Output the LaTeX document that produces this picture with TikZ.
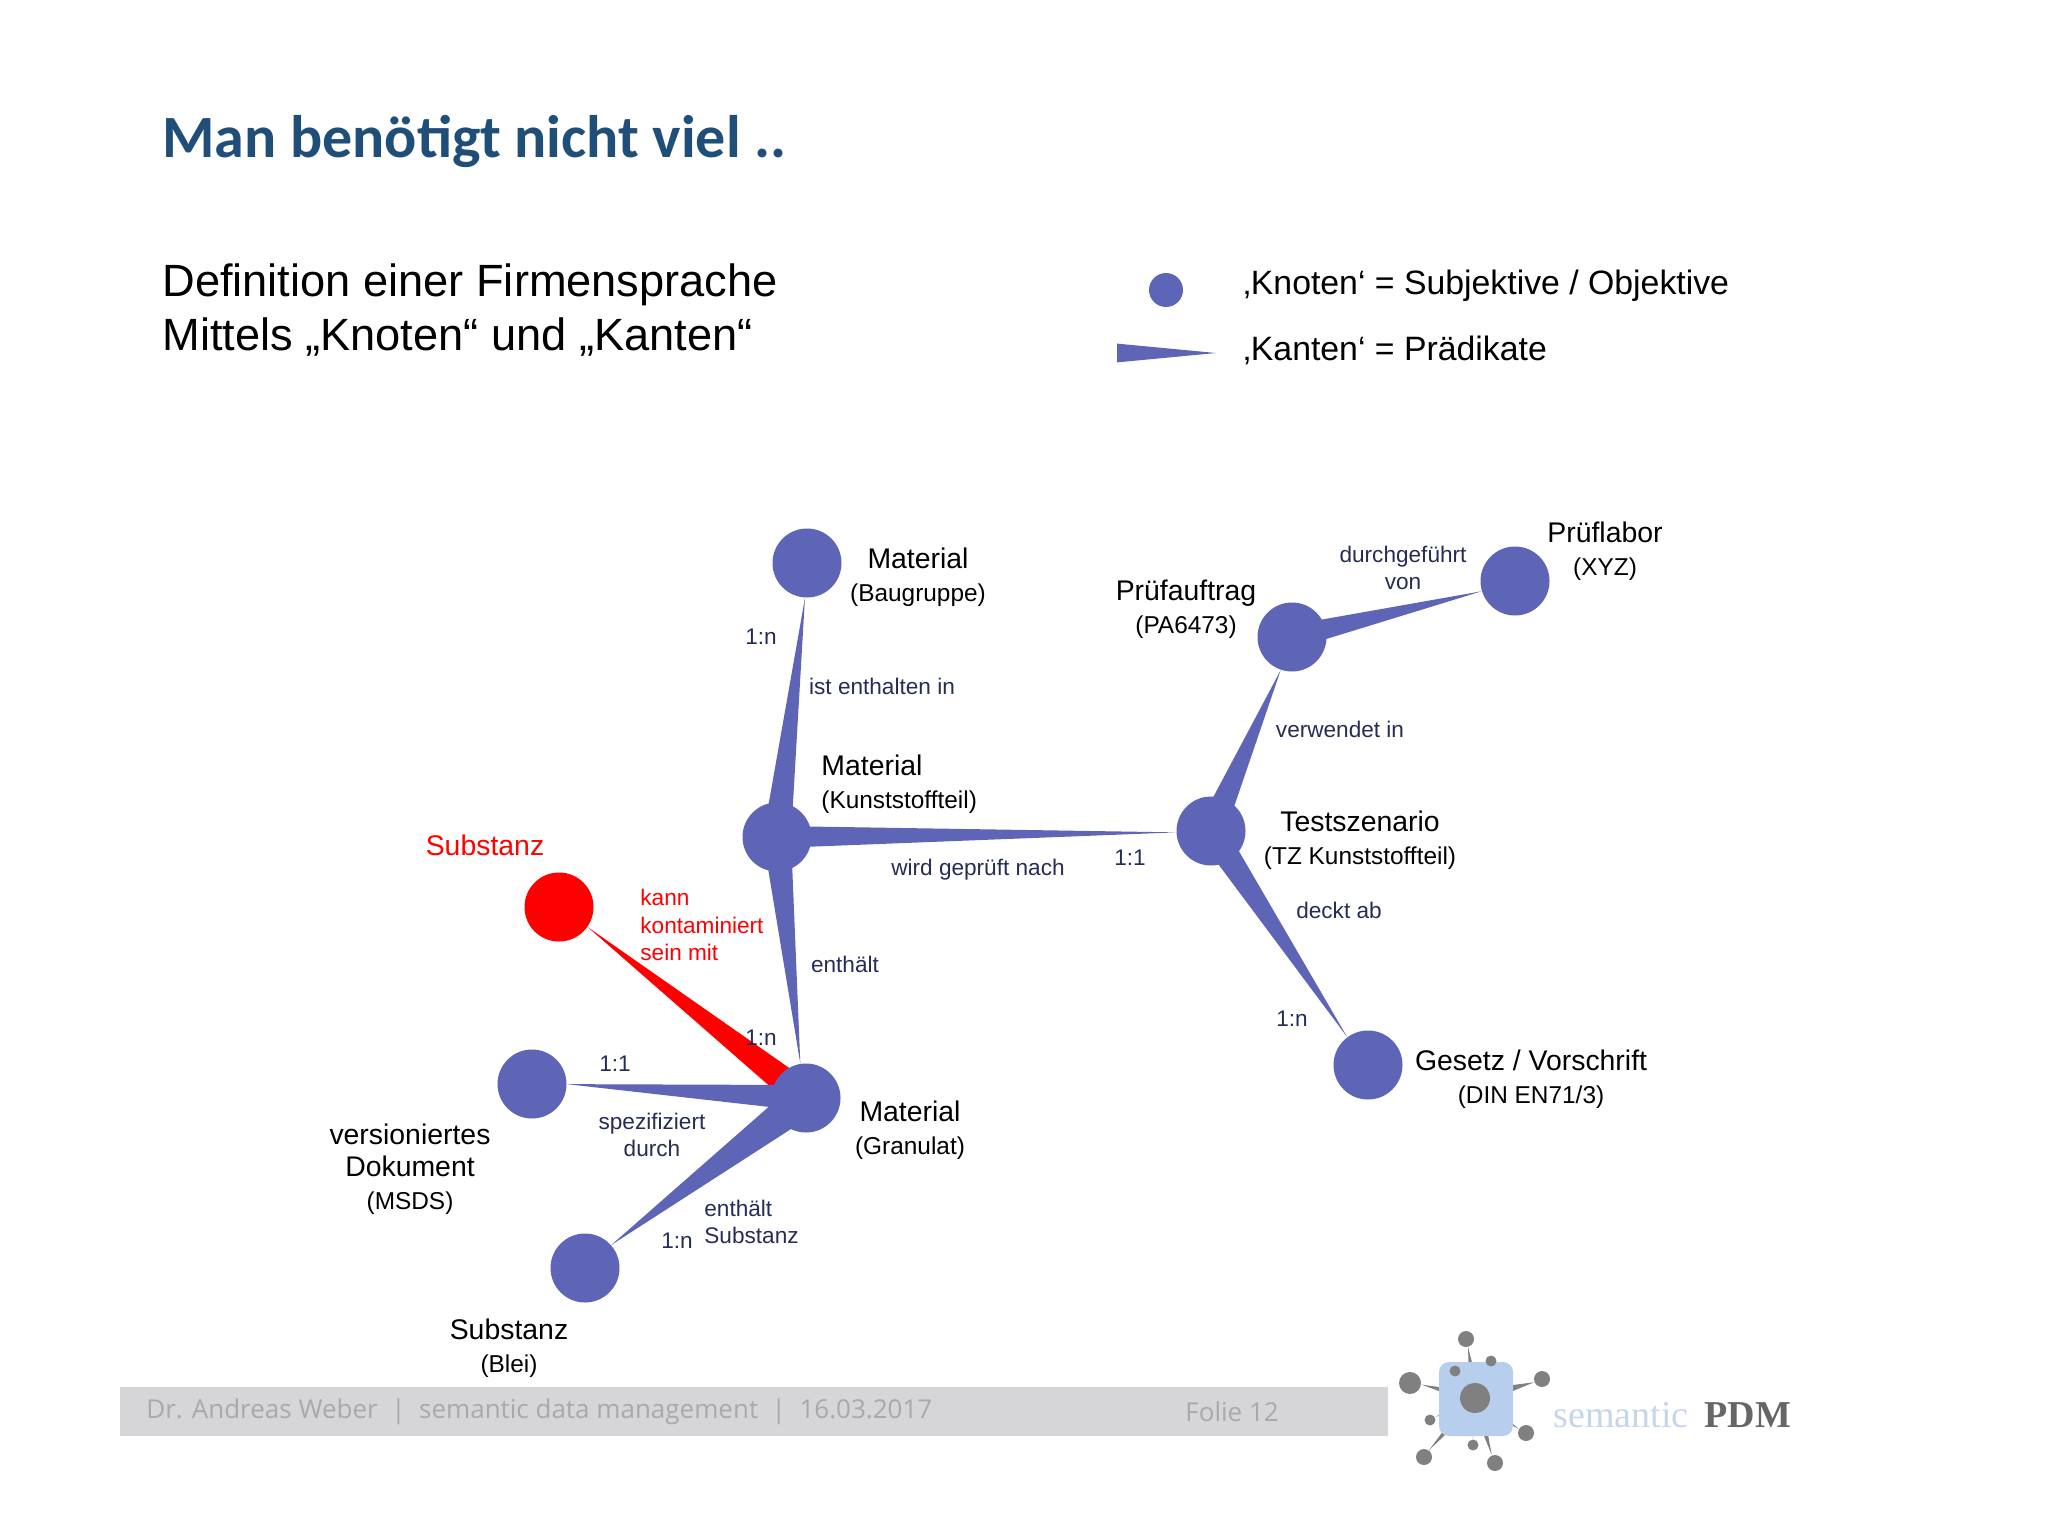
\documentclass[tikz,border=0pt]{standalone}
\usepackage{fontspec}
\setmainfont{Liberation Sans}
\newfontfamily\titelfont{Carlito}
\newfontfamily\fussfont{Open Sans}
\newfontfamily\logofont{Liberation Serif}
\usetikzlibrary{calc,backgrounds}
\definecolor{knotenblau}{HTML}{5E65B6}
\definecolor{titelblau}{HTML}{1F4E79}
\definecolor{labelblau}{HTML}{252C55}
\definecolor{fussgrau}{HTML}{D6D6D8}
\definecolor{fusstext}{HTML}{A9A9AB}
\definecolor{logograu}{HTML}{808080}
\definecolor{logoblau}{HTML}{B7CFEC}
\definecolor{logotext}{HTML}{C5D6EC}
\newcommand{\zweit}{\fontsize{12.2}{16.3}\selectfont}
% wedge: wide at #2, point at #3, #4 = half width
\newcommand{\kante}[4][knotenblau]{\fill[#1] ($(#2)!#4!90:(#3)$) -- ($(#2)!#4!-90:(#3)$) -- (#3) -- cycle;}
\tikzset{
  knoten/.style={circle,fill=knotenblau,minimum size=34.5pt,inner sep=0pt},
  titel/.style={inner sep=0pt,align=center,font=\fontsize{14.2}{16.3}\selectfont},
  klein/.style={inner sep=0pt,align=center,text=labelblau,font=\fontsize{11.3}{13.7}\selectfont},
  logopunkt/.style={circle,fill=logograu,inner sep=0pt}
}
\begin{document}
\begin{tikzpicture}[x=0.5pt,y=-0.5pt]
  \useasboundingbox (0,0) rectangle (2048,1536);
  \node[anchor=base west,inner sep=0pt,text=titelblau,font=\titelfont\bfseries\fontsize{30}{36}\selectfont] (kopf) at (162,157) {Man benötigt nicht viel ..};
  \node[anchor=west,inner sep=0pt,align=left,font=\fontsize{22.6}{27.4}\selectfont] (intro) at (162,310) {Definition einer Firmensprache\\Mittels „Knoten“ und „Kanten“};
  % legend
  \node[circle,fill=knotenblau,minimum size=17pt,inner sep=0pt] (legknoten) at (1166,290) {};
  \node[anchor=west,inner sep=0pt,font=\fontsize{16.9}{20}\selectfont] (legtext1) at (1243,286) {‚Knoten‘ = Subjektive / Objektive};
  \node[anchor=west,inner sep=0pt,font=\fontsize{16.9}{20}\selectfont] (legtext2) at (1243,350) {‚Kanten‘ = Prädikate};
  \coordinate (legA) at (1117,353);
  \coordinate (legB) at (1216,353);
  \kante{legA}{legB}{4.7pt}
  % nodes
  \node[knoten] (baugruppe) at (807,563) {};
  \node[knoten] (kunststoff) at (777,837) {};
  \node[knoten] (granulat) at (806,1098) {};
  \node[knoten,fill=red] (rot) at (559,907) {};
  \node[knoten] (msds) at (532,1084) {};
  \node[knoten] (blei) at (585,1268) {};
  \node[knoten] (test) at (1211,831) {};
  \node[knoten] (auftrag) at (1292,637) {};
  \node[knoten] (labor) at (1515,581) {};
  \node[knoten] (gesetz) at (1368,1065) {};
  \begin{scope}[on background layer]
    \kante{kunststoff}{baugruppe}{7pt}
    \kante{kunststoff}{granulat}{7pt}
    \kante{kunststoff}{test}{5.5pt}
    \kante{test}{auftrag}{7pt}
    \kante{test}{gesetz}{7pt}
    \kante{auftrag}{labor}{6pt}
    \kante[red]{granulat}{rot}{7.5pt}
    \kante{granulat}{msds}{6.5pt}
    \kante{granulat}{blei}{9pt}
  \end{scope}
  % names
  \node[titel] (nbaugruppe) at (918,577) {Material\\{\zweit(Baugruppe)}};
  \node[titel,anchor=west,align=left] (nkunststoff) at (821,784) {Material\\{\zweit(Kunststoffteil)}};
  \node[titel] (ngranulat) at (910,1130) {Material\\{\zweit(Granulat)}};
  \node[titel] (nauftrag) at (1186,609) {Prüfauftrag\\{\zweit(PA6473)}};
  \node[titel] (nlabor) at (1605,551) {Prüflabor\\{\zweit(XYZ)}};
  \node[titel] (ntest) at (1360,840) {Testszenario\\{\zweit(TZ Kunststoffteil)}};
  \node[titel] (ngesetz) at (1531,1079) {Gesetz / Vorschrift\\{\zweit(DIN EN71/3)}};
  \node[titel] (nblei) at (509,1348) {Substanz\\{\zweit(Blei)}};
  \node[titel] (nmsds) at (410,1169) {versioniertes\\Dokument\\{\zweit(MSDS)}};
  \node[titel,text=red] (nrot) at (485,845) {Substanz};
  % edge labels
  \node[klein] (k1) at (761,637) {1:n};
  \node[klein] (k2) at (882,686) {ist enthalten in};
  \node[klein] (k3) at (1340,729) {verwendet in};
  \node[klein] (k4) at (1403,568) {durchgeführt\\von};
  \node[klein] (k5) at (978,870) {wird geprüft nach};
  \node[klein] (k6) at (1130,858) {1:1};
  \node[klein] (k7) at (1339,910) {deckt ab};
  \node[klein] (k8) at (1292,1019) {1:n};
  \node[klein] (k9) at (845,964) {enthält};
  \node[klein] (k10) at (761,1038) {1:n};
  \node[klein] (k11) at (615,1064) {1:1};
  \node[klein] (k12) at (652,1135) {spezifiziert\\durch};
  \node[klein,anchor=west,align=left] (k13) at (704,1222) {enthält\\Substanz};
  \node[klein] (k14) at (677,1241) {1:n};
  \node[klein,anchor=west,align=left,text=red] (k15) at (640,925) {kann\\kontaminiert\\sein mit};
  % footer
  \path[fill=fussgrau] (120,1387) rectangle (1388,1436);
  \node[anchor=west,inner sep=0pt,text=fusstext,font=\fussfont\fontsize{13}{15}\selectfont] (fuss1) at (146,1412) {Dr. Andreas Weber~~|~~semantic data management~~|~~16.03.2017};
  \node[anchor=west,inner sep=0pt,text=fusstext,font=\fussfont\fontsize{13}{15}\selectfont] (fuss2) at (1185,1412) {Folie 12};
  % logo
  \node[logopunkt,minimum size=15pt] (logo) at (1475,1398) {};
  \foreach \n/\x/\y/\d/\w in {a/1466/1339/8/3pt,b/1491/1361/5.5/1.5pt,c/1455/1371/5.5/1.5pt,d/1410/1383/11/3pt,e/1542/1379/8/4pt,f/1526/1433/8/3pt,g/1495/1463/8/3pt,h/1473/1445/5.5/1.5pt,i/1424/1457/8/3pt,j/1430/1420/5.5/1.5pt}
  {
    \node[logopunkt,minimum size=\d pt] (lg\n) at (\x,\y) {};
    \begin{scope}[on background layer]
      \kante[logograu]{logo}{lg\n}{\w}
    \end{scope}
  }
  \begin{scope}[on background layer]
    \path[fill=logoblau,rounded corners=5pt] (1439,1362) rectangle (1513,1436);
  \end{scope}
  \node[anchor=base west,inner sep=0pt,text=logotext,font=\logofont\fontsize{19}{22}\selectfont] (lsem) at (1553,1427) {semantic};
  \node[anchor=base west,inner sep=0pt,text=black!60,font=\logofont\bfseries\fontsize{19}{22}\selectfont] (lpdm) at (1704,1427) {PDM};
\end{tikzpicture}
\end{document}
